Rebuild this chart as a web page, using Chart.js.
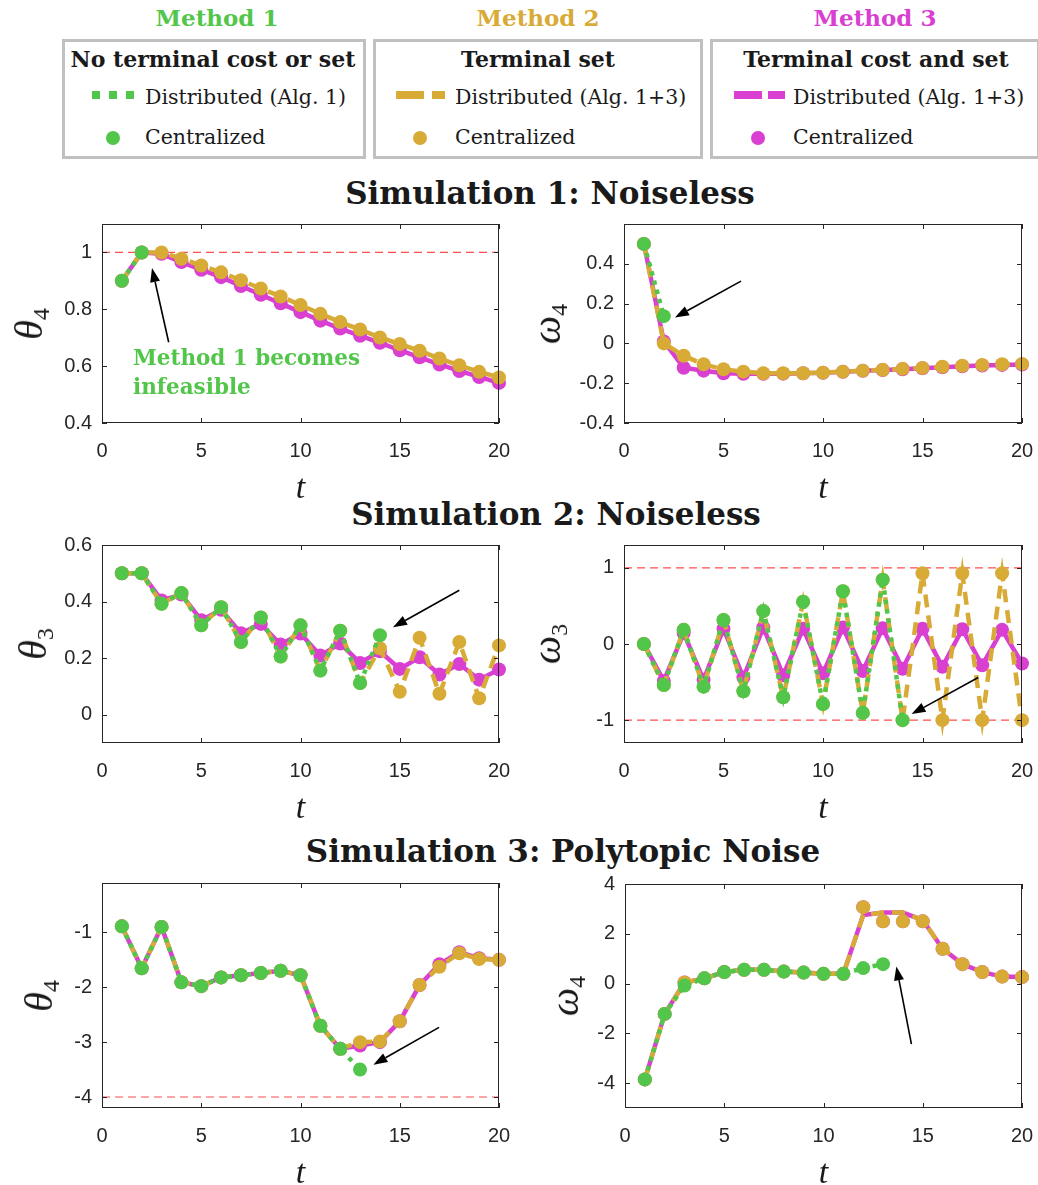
<!DOCTYPE html>
<html lang="en">
<head>
<meta charset="UTF-8">
<title>Distributed MPC simulations</title>
<script src="https://cdn.jsdelivr.net/npm/chart.js"></script>
<style>
  body { margin: 0; width: 1038px; height: 1185px; position: relative; overflow: hidden; background: #fff; color: #1a1a1a; font-family: 'DejaVu Serif', serif; }
  .c { position: absolute; transform: translate(-50%, -50%); white-space: nowrap; }
  .l { position: absolute; transform: translateY(-50%); white-space: nowrap; }
  .method { font-weight: bold; font-size: 23px; }
  .box { position: absolute; top: 39px; height: 120px; border: 3px solid #c0c0c0; box-sizing: border-box; }
  .boxtitle { font-weight: bold; font-size: 22px; }
  .item { font-size: 20.5px; }
  .sw { position: absolute; height: 8px; }
  .dot { position: absolute; width: 14px; height: 14px; border-radius: 50%; transform: translate(-50%, -50%); }
  .section { font-weight: bold; font-size: 31px; }
  .panel { position: absolute; }
  .ylab { position: absolute; font-family: 'Liberation Serif', serif; font-style: italic; font-size: 40px; transform: translate(-50%, -50%) rotate(-90deg); white-space: nowrap; }
  .ylab sub { font-style: normal; font-size: 24px; vertical-align: -7px; }
  .xlab { position: absolute; font-family: 'Liberation Serif', serif; font-style: italic; font-size: 34px; transform: translate(-50%, -50%); }
</style>
</head>
<body>

<!-- legend -->
<div class="c method" style="left:217px; top:17px; color:#52c64a">Method 1</div>
<div class="c method" style="left:538px; top:17px; color:#d8ab37">Method 2</div>
<div class="c method" style="left:875px; top:17px; color:#d93fd1">Method 3</div>

<div class="box" style="left:62px; width:304px"></div>
<div class="box" style="left:373px; width:330px"></div>
<div class="box" style="left:710px; width:330px"></div>

<div class="c boxtitle" style="left:213px; top:59px">No terminal cost or set</div>
<div class="c boxtitle" style="left:538px; top:59px">Terminal set</div>
<div class="c boxtitle" style="left:876px; top:59px">Terminal cost and set</div>

<div class="sw" style="left:92px; top:91px; width:43px; background:repeating-linear-gradient(90deg,#52c64a 0 8px,transparent 8px 17px)"></div>
<div class="sw" style="left:396px; top:91px; width:49px; background:repeating-linear-gradient(90deg,#d8ab37 0 28px,transparent 28px 36px)"></div>
<div class="sw" style="left:734px; top:91px; width:51px; background:repeating-linear-gradient(90deg,#d93fd1 0 28px,transparent 28px 34px)"></div>
<div class="l item" style="left:145px; top:97px">Distributed (Alg. 1)</div>
<div class="l item" style="left:455px; top:97px">Distributed (Alg. 1+3)</div>
<div class="l item" style="left:793px; top:97px">Distributed (Alg. 1+3)</div>

<div class="dot" style="left:113px; top:138px; background:#52c64a"></div>
<div class="dot" style="left:420px; top:138px; background:#d8ab37"></div>
<div class="dot" style="left:758px; top:138px; background:#d93fd1"></div>
<div class="l item" style="left:145px; top:137px">Centralized</div>
<div class="l item" style="left:455px; top:137px">Centralized</div>
<div class="l item" style="left:793px; top:137px">Centralized</div>

<!-- section titles -->
<div class="c section" style="left:550px; top:193px">Simulation 1: Noiseless</div>
<div class="c section" style="left:556px; top:514px">Simulation 2: Noiseless</div>
<div class="c section" style="left:563px; top:851px">Simulation 3: Polytopic Noise</div>

<div id="figure"></div>

<script>
    var T = [1, 2, 3, 4, 5, 6, 7, 8, 9, 10, 11, 12, 13, 14, 15, 16, 17, 18, 19, 20];
    var X_TICKS = [0, 5, 10, 15, 20];

    // Simulation 1: theta_4
    var S1_THETA_M1 = [0.90, 1.00];
    var S1_THETA_M2 = [0.90, 1.00, 1.00, 0.978, 0.954, 0.930, 0.902, 0.873, 0.845, 0.815, 0.784, 0.755, 0.729, 0.701, 0.678, 0.654, 0.627, 0.603, 0.580, 0.560];
    var S1_THETA_M3 = [0.90, 1.00, 0.995, 0.966, 0.939, 0.913, 0.882, 0.851, 0.821, 0.790, 0.760, 0.732, 0.707, 0.682, 0.656, 0.631, 0.606, 0.583, 0.562, 0.541];
    var S1_THETA_TICKS = [0.4, 0.6, 0.8, 1];
    var S1_THETA_LIMITS = [1];

    // Simulation 1: omega_4
    var S1_OMEGA_M1 = [0.50, 0.137];
    var S1_OMEGA_M2 = [0.50, 0.00, -0.062, -0.105, -0.130, -0.142, -0.150, -0.150, -0.150, -0.147, -0.142, -0.137, -0.133, -0.128, -0.123, -0.117, -0.112, -0.108, -0.105, -0.103];
    var S1_OMEGA_M3 = [0.50, 0.01, -0.122, -0.137, -0.150, -0.153, -0.153, -0.152, -0.150, -0.148, -0.143, -0.138, -0.134, -0.130, -0.125, -0.120, -0.115, -0.111, -0.108, -0.106];
    var S1_OMEGA_TICKS = [-0.4, -0.2, 0, 0.2, 0.4];

    // Simulation 2: theta_3
    var S2_THETA_M1 = [0.50, 0.50, 0.392, 0.430, 0.316, 0.380, 0.257, 0.344, 0.206, 0.316, 0.156, 0.297, 0.112, 0.281];
    var S2_THETA_M2 = [0.50, 0.50, 0.392, 0.430, 0.316, 0.380, 0.257, 0.344, 0.206, 0.316, 0.156, 0.297, 0.112, 0.235, 0.081, 0.272, 0.074, 0.257, 0.058, 0.245];
    var S2_THETA_M3 = [0.50, 0.50, 0.404, 0.425, 0.334, 0.371, 0.288, 0.321, 0.248, 0.287, 0.209, 0.252, 0.183, 0.224, 0.162, 0.203, 0.142, 0.179, 0.124, 0.160];
    var S2_THETA_TICKS = [0, 0.2, 0.4, 0.6];

    // Simulation 2: omega_3
    var S2_OMEGA_M1 = [0, -0.54, 0.186, -0.56, 0.316, -0.62, 0.432, -0.70, 0.554, -0.788, 0.692, -0.905, 0.844, -1.0];
    var S2_OMEGA_M2 = [0, -0.54, 0.186, -0.56, 0.316, -0.62, 0.432, -0.70, 0.554, -0.788, 0.692, -0.905, 0.844, -1.0, 0.93, -1.0, 0.93, -1.0, 0.93, -1.0];
    var S2_OMEGA_M3 = [0, -0.485, 0.143, -0.47, 0.20, -0.44, 0.216, -0.41, 0.20, -0.385, 0.216, -0.355, 0.208, -0.325, 0.20, -0.30, 0.195, -0.28, 0.186, -0.256];
    var S2_OMEGA_TICKS = [-1, 0, 1];
    var S2_OMEGA_LIMITS = [1, -1];

    // Simulation 3: theta_4
    var S3_THETA_M1 = [-0.89, -1.655, -0.90, -1.91, -1.98, -1.82, -1.78, -1.74, -1.70, -1.78, -2.70, -3.12, -3.50];
    var S3_THETA_M2 = [-0.89, -1.655, -0.90, -1.91, -1.98, -1.82, -1.78, -1.74, -1.70, -1.78, -2.70, -3.12, -3.00, -2.99, -2.62, -1.96, -1.625, -1.38, -1.485, -1.50];
    var S3_THETA_M3 = [-0.89, -1.655, -0.90, -1.91, -1.98, -1.82, -1.78, -1.74, -1.70, -1.78, -2.70, -3.12, -3.06, -3.00, -2.62, -1.96, -1.58, -1.36, -1.47, -1.50];
    var S3_THETA_TICKS = [-4, -3, -2, -1];
    var S3_THETA_LIMITS = [-4];

    // Simulation 3: omega_4 (distributed methods 2/3 share a path, centralized differs)
    var S3_OMEGA_M1 = [-3.85, -1.22, -0.08, 0.21, 0.46, 0.55, 0.55, 0.48, 0.44, 0.39, 0.39, 0.62, 0.78];
    var S3_OMEGA_DIST = [-3.85, -1.22, 0.04, 0.21, 0.46, 0.55, 0.55, 0.48, 0.44, 0.39, 0.39, 2.75, 2.85, 2.85, 2.55, 1.40, 0.78, 0.46, 0.28, 0.26];
    var S3_OMEGA_CENT = [-3.85, -1.22, 0.04, 0.21, 0.46, 0.55, 0.55, 0.48, 0.44, 0.39, 0.39, 3.07, 2.50, 2.50, 2.50, 1.40, 0.78, 0.46, 0.28, 0.26];
    var S3_OMEGA_TICKS = [-4, -2, 0, 2, 4];

    // arrows: [tail t, tail value, head t, head value]
    var S1_THETA_ARROW = [3.36, 0.684, 2.52, 0.945];
    var S1_OMEGA_ARROW = [5.88, 0.313, 2.56, 0.13];
    var S2_THETA_ARROW = [18.0, 0.44, 14.66, 0.309];
    var S2_OMEGA_ARROW = [17.8, -0.44, 14.45, -0.92];
    var S3_THETA_ARROW = [16.98, -2.73, 13.67, -3.41];
    var S3_OMEGA_ARROW = [14.43, -2.43, 13.67, 0.69];

    var GREEN = '#52c64a', GOLD = '#d8ab37', MAGENTA = '#d93fd1';
    var AX_W = 70, AX_H = 46, PAD_T = 10, PAD_R = 16;

    var panels = [
        { id: 'p1', left: 102, top: 224, w: 397, h: 199, yMin: 0.4, yMax: 1.1, ticks: S1_THETA_TICKS, m1: S1_THETA_M1, m2: S1_THETA_M2, m3: S1_THETA_M3, limits: S1_THETA_LIMITS, arrow: S1_THETA_ARROW, sym: 'θ', sub: '4', labX: 30, note: true },
        { id: 'p2', left: 624, top: 224, w: 398, h: 199, yMin: -0.4, yMax: 0.6, ticks: S1_OMEGA_TICKS, m1: S1_OMEGA_M1, m2: S1_OMEGA_M2, m3: S1_OMEGA_M3, limits: [], arrow: S1_OMEGA_ARROW, sym: 'ω', sub: '4', labX: 548 },
        { id: 'p3', left: 102, top: 545, w: 397, h: 198, yMin: -0.1, yMax: 0.6, ticks: S2_THETA_TICKS, m1: S2_THETA_M1, m2: S2_THETA_M2, m3: S2_THETA_M3, limits: [], arrow: S2_THETA_ARROW, sym: 'θ', sub: '3', labX: 34 },
        { id: 'p4', left: 624, top: 545, w: 398, h: 198, yMin: -1.3, yMax: 1.3, ticks: S2_OMEGA_TICKS, m1: S2_OMEGA_M1, m2: S2_OMEGA_M2, m3: S2_OMEGA_M3, limits: S2_OMEGA_LIMITS, arrow: S2_OMEGA_ARROW, sym: 'ω', sub: '3', labX: 548 },
        { id: 'p5', left: 102, top: 883, w: 397, h: 225, yMin: -4.2, yMax: -0.1, ticks: S3_THETA_TICKS, m1: S3_THETA_M1, m2: S3_THETA_M2, m3: S3_THETA_M3, limits: S3_THETA_LIMITS, arrow: S3_THETA_ARROW, sym: 'θ', sub: '4', labX: 40 },
        { id: 'p6', left: 625, top: 884, w: 397, h: 224, yMin: -5, yMax: 4, ticks: S3_OMEGA_TICKS, m1: S3_OMEGA_M1, m2: S3_OMEGA_DIST, m3: S3_OMEGA_DIST, m2c: S3_OMEGA_CENT, m3c: S3_OMEGA_CENT, limits: [], arrow: S3_OMEGA_ARROW, sym: 'ω', sub: '4', labX: 566 }
    ];
    var byId = {};

    function pts(vals) {
        return vals.map(function (v, i) { return { x: T[i], y: v }; });
    }

    // box, inward ticks, arrow and note (MATLAB style axes)
    var framePlugin = {
        id: 'frame',
        afterDatasetsDraw: function (chart) {
            var p = byId[chart.canvas.id];
            var ctx = chart.ctx, a = chart.chartArea, xs = chart.scales.x, ys = chart.scales.y;
            ctx.save();
            ctx.strokeStyle = '#262626';
            ctx.lineWidth = 1;
            ctx.strokeRect(a.left + 0.5, a.top + 0.5, a.width - 1, a.height - 1);
            ctx.beginPath();
            X_TICKS.forEach(function (v) {
                var px = Math.round(xs.getPixelForValue(v)) + 0.5;
                ctx.moveTo(px, a.bottom); ctx.lineTo(px, a.bottom - 5);
                ctx.moveTo(px, a.top); ctx.lineTo(px, a.top + 5);
            });
            p.ticks.forEach(function (v) {
                var py = Math.round(ys.getPixelForValue(v)) + 0.5;
                ctx.moveTo(a.left, py); ctx.lineTo(a.left + 5, py);
                ctx.moveTo(a.right, py); ctx.lineTo(a.right - 5, py);
            });
            ctx.stroke();

            var x1 = xs.getPixelForValue(p.arrow[0]), y1 = ys.getPixelForValue(p.arrow[1]);
            var x2 = xs.getPixelForValue(p.arrow[2]), y2 = ys.getPixelForValue(p.arrow[3]);
            var ang = Math.atan2(y2 - y1, x2 - x1), L = 14, W = 5;
            var bx = x2 - L * Math.cos(ang), by = y2 - L * Math.sin(ang);
            ctx.strokeStyle = '#000';
            ctx.lineWidth = 1.6;
            ctx.beginPath(); ctx.moveTo(x1, y1); ctx.lineTo(bx, by); ctx.stroke();
            ctx.fillStyle = '#000';
            ctx.beginPath();
            ctx.moveTo(x2, y2);
            ctx.lineTo(bx + W * Math.sin(ang), by - W * Math.cos(ang));
            ctx.lineTo(bx - W * Math.sin(ang), by + W * Math.cos(ang));
            ctx.closePath(); ctx.fill();

            if (p.note) {
                ctx.fillStyle = GREEN;
                ctx.font = 'bold 21.5px "DejaVu Serif"';
                ctx.textBaseline = 'middle';
                ctx.fillText('Method 1 becomes', xs.getPixelForValue(1.56), ys.getPixelForValue(0.622));
                ctx.fillText('infeasible', xs.getPixelForValue(1.56), ys.getPixelForValue(0.52));
            }
            ctx.restore();
        }
    };

    function drawPanel(p) {
        byId[p.id] = p;
        var fig = document.getElementById('figure');
        var div = document.createElement('div');
        div.className = 'panel';
        div.style.left = (p.left - AX_W) + 'px';
        div.style.top = (p.top - PAD_T) + 'px';
        var cv = document.createElement('canvas');
        cv.id = p.id;
        cv.width = p.w + AX_W + PAD_R;
        cv.height = p.h + PAD_T + AX_H;
        div.appendChild(cv);
        fig.appendChild(div);

        var yl = document.createElement('div');
        yl.className = 'ylab';
        yl.style.left = p.labX + 'px';
        yl.style.top = (p.top + p.h / 2) + 'px';
        yl.innerHTML = p.sym + '<sub>' + p.sub + '</sub>';
        fig.appendChild(yl);

        var xl = document.createElement('div');
        xl.className = 'xlab';
        xl.style.left = (p.left + p.w / 2) + 'px';
        xl.style.top = (p.top + p.h + 64) + 'px';
        xl.textContent = 't';
        fig.appendChild(xl);

        var datasets = [
            { data: pts(p.m1), showLine: false, pointRadius: 7, pointBackgroundColor: GREEN, pointBorderWidth: 0 },
            { data: pts(p.m1), borderColor: GREEN, borderWidth: 4.5, borderDash: [4.5, 5], pointRadius: 0 },
            { data: pts(p.m2c || p.m2), showLine: false, pointRadius: 7, pointBackgroundColor: GOLD, pointBorderWidth: 0 },
            { data: pts(p.m2), borderColor: GOLD, borderWidth: 4.5, borderDash: [13, 8], pointRadius: 0 },
            { data: pts(p.m3c || p.m3), showLine: false, pointRadius: 7, pointBackgroundColor: MAGENTA, pointBorderWidth: 0 },
            { data: pts(p.m3), borderColor: MAGENTA, borderWidth: 4.5, pointRadius: 0 }
        ];
        p.limits.forEach(function (v) {
            datasets.push({ data: [{ x: 0, y: v }, { x: 20, y: v }], borderColor: 'rgba(255,0,0,0.7)', borderWidth: 1.2, borderDash: [8, 5], pointRadius: 0 });
        });
        datasets.forEach(function (d) { d.clip = false; d.tension = 0; });

        new Chart(cv.getContext('2d'), {
            type: 'line',
            data: { datasets: datasets },
            options: {
                responsive: false,
                animation: false,
                devicePixelRatio: 1,
                layout: { padding: { left: 0, top: PAD_T, right: PAD_R, bottom: 0 } },
                plugins: { legend: { display: false }, tooltip: { enabled: false } },
                scales: {
                    x: {
                        type: 'linear', min: 0, max: 20,
                        afterBuildTicks: function (s) { s.ticks = X_TICKS.map(function (v) { return { value: v }; }); },
                        ticks: { padding: 16, maxRotation: 0, color: '#262626', font: { family: 'Liberation Sans', size: 20 }, callback: function (v) { return String(v); } },
                        grid: { display: false, drawTicks: false },
                        border: { display: false },
                        afterFit: function (s) { s.height = AX_H; s.paddingLeft = 0; s.paddingRight = 0; }
                    },
                    y: {
                        type: 'linear', min: p.yMin, max: p.yMax,
                        afterBuildTicks: function (s) { s.ticks = p.ticks.map(function (v) { return { value: v }; }); },
                        ticks: { padding: 10, color: '#262626', font: { family: 'Liberation Sans', size: 20 }, callback: function (v) { return String(Math.round(v * 100) / 100); } },
                        grid: { display: false, drawTicks: false },
                        border: { display: false },
                        afterFit: function (s) { s.width = AX_W; s.paddingTop = 0; s.paddingBottom = 0; }
                    }
                }
            },
            plugins: [framePlugin]
        });
    }

    panels.forEach(drawPanel);
</script>
</body>
</html>
